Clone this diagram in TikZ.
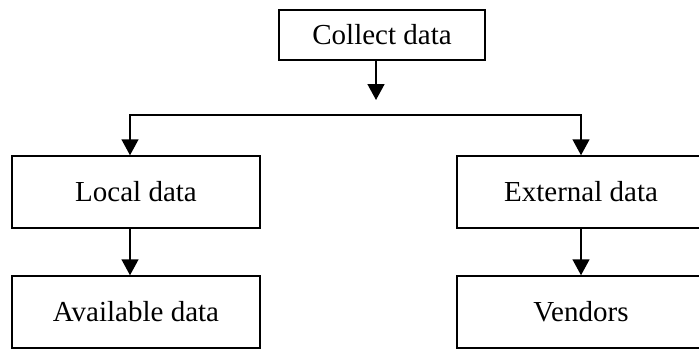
\documentclass[tikz,border=0pt]{standalone}
\usepackage{fontspec}
\setmainfont{Liberation Serif}
\usetikzlibrary{arrows.meta}
\begin{document}
\begin{tikzpicture}[x=0.5pt,y=-0.5pt]

\tikzset{>={Triangle[length=8pt,width=8.5pt]}}
\tikzset{box/.style={draw,line width=0.75pt,minimum width=124pt,minimum height=36pt,inner sep=0pt,font=\fontsize{14.5}{17}\selectfont}}
\def\leftX{136}
\def\rightX{581}
\def\splitY{115}

\useasboundingbox (0,0) rectangle (699,348);
\clip (0,0) rectangle (699,348);

\draw (382,35) node[box,line width=1.2pt,minimum width=103pt,minimum height=25pt](collect) {Collect data};

\draw (\leftX,192) node[box](local) {Local data};
\draw (\rightX,192) node[box](external) {External data};

\draw (\leftX,312) node[box](available) {Available data};
\draw (\rightX,312) node[box](vendors) {Vendors};

\coordinate (collecttip) at (376,100);
\coordinate (lturn) at (130,\splitY);
\coordinate (rturn) at (\rightX,\splitY);

\draw[->,line width=0.75pt] (collect.south -| collecttip) -- (collecttip);
\draw[<->,line width=0.75pt] (local.north -| lturn) -- (lturn) -- (rturn) -- (external.north);

\draw[->,line width=0.75pt] (local.south -| lturn) -- (available.north -| lturn);
\draw[->,line width=0.75pt] (external) -- (vendors);

\end{tikzpicture}
\end{document}
